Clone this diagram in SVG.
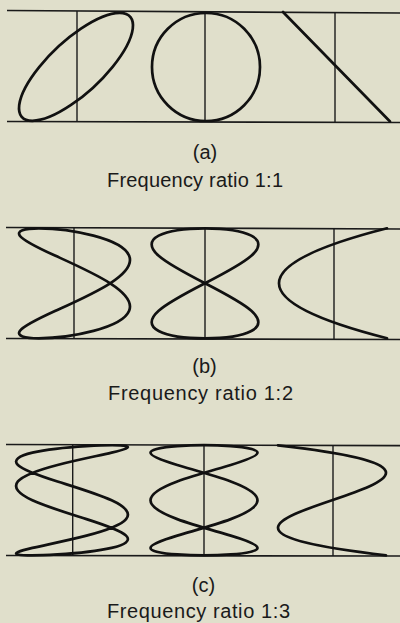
<svg xmlns="http://www.w3.org/2000/svg" width="400" height="623" viewBox="0 0 400 623">
<style>
.bg{fill:#e0dfcb}
.rule{stroke:#1a1a1a;stroke-width:1.7;fill:none;stroke-linecap:butt}
.axis{stroke:#1a1a1a;stroke-width:1.4;fill:none}
.trace{stroke:#111;stroke-width:2.7;fill:none;stroke-linejoin:round;stroke-linecap:round}
.lbl{font-family:"Liberation Sans",Arial,sans-serif;font-size:20px;fill:#1a1a1a}
</style>
<rect class="bg" x="0" y="0" width="400" height="623"/>

<g id="panel-a">
  <g id="a-frame">
    <line class="rule" x1="7" y1="10.5" x2="400" y2="13"/>
    <line class="rule" x1="7" y1="121.5" x2="400" y2="122.5"/>
    <line class="axis" x1="77" y1="11" x2="77" y2="122"/>
    <line class="axis" x1="205" y1="12" x2="205" y2="122"/>
    <line class="axis" x1="335" y1="12" x2="335" y2="122"/>
  </g>
  <path id="a-ellipse" class="trace" d="M112.64,66.8 C136.75,36.98 139.9,12.8 119.66,12.8 C99.42,12.8 63.47,36.98 39.36,66.8 C15.25,96.62 12.1,120.8 32.34,120.8 C52.58,120.8 88.53,96.62 112.64,66.8Z"/>
  <circle id="a-circle" class="trace" cx="206" cy="67" r="54"/>
  <line id="a-line" class="trace" x1="283" y1="12" x2="390" y2="121.5"/>
  <text class="lbl" x="205" y="159" text-anchor="middle">(a)</text>
  <text class="lbl" x="107" y="186.5" textLength="176" lengthAdjust="spacing">Frequency ratio 1:1</text>
</g>

<g id="panel-b">
  <g id="b-frame">
    <line class="rule" x1="6" y1="227.5" x2="400" y2="229"/>
    <line class="rule" x1="6" y1="338.5" x2="400" y2="339.5"/>
    <line class="axis" x1="74" y1="228" x2="74" y2="339"/>
    <line class="axis" x1="205" y1="228" x2="205" y2="339"/>
    <line class="axis" x1="334" y1="228" x2="334" y2="339"/>
  </g>
  <path id="b-left" class="trace" d="M110.18,283.3 C125.02,273.7 132.52,264.11 129.16,255.8 C125.8,247.49 111.68,240.47 93.48,235.67 C75.28,230.87 53.66,228.3 38.82,228.3 C23.98,228.3 16.48,230.87 19.84,235.67 C23.2,240.47 37.32,247.49 55.52,255.8 C73.72,264.11 95.34,273.7 110.18,283.3 C125.02,292.9 132.52,302.49 129.16,310.8 C125.8,319.11 111.68,326.13 93.48,330.93 C75.28,335.73 53.66,338.3 38.82,338.3 C23.98,338.3 16.48,335.73 19.84,330.93 C23.2,326.13 37.32,319.11 55.52,310.8 C73.72,302.49 95.34,292.9 110.18,283.3Z"/>
  <path id="b-middle" class="trace" d="M205,283.3 C223.675,273.7 241.99,264.11 251.33,255.8 C260.67,247.49 260.67,240.47 251.33,235.67 C241.99,230.87 223.675,228.3 205,228.3 C186.325,228.3 168.01,230.87 158.67,235.67 C149.33,240.47 149.33,247.49 158.67,255.8 C168.01,264.11 186.325,273.7 205,283.3 C223.675,292.9 241.99,302.49 251.33,310.8 C260.67,319.11 260.67,326.13 251.33,330.93 C241.99,335.73 223.675,338.3 205,338.3 C186.325,338.3 168.01,335.73 158.67,330.93 C149.33,326.13 149.33,319.11 158.67,310.8 C168.01,302.49 186.325,292.9 205,283.3Z"/>
  <path id="b-right" class="trace" d="M387,338.3 Q171,283.3 387,228.3"/>
  <text class="lbl" x="204.5" y="373" text-anchor="middle">(b)</text>
  <text class="lbl" x="108" y="399.5" textLength="185" lengthAdjust="spacing">Frequency ratio 1:2</text>
</g>

<g id="panel-c">
  <g id="c-frame">
    <line class="rule" x1="6" y1="444.5" x2="400" y2="445.7"/>
    <line class="rule" x1="6" y1="555.5" x2="400" y2="556"/>
    <line class="axis" x1="72.7" y1="445" x2="72.7" y2="556"/>
    <line class="axis" x1="204" y1="445" x2="204" y2="556"/>
    <line class="axis" x1="333" y1="445" x2="333" y2="556"/>
  </g>
  <path id="c-left" class="trace" d="M111.6,500.3 C97.78,493.9 76.39,487.5 57.51,481.49 C38.63,475.48 22.97,469.85 17.91,464.95 C12.85,460.05 18.58,455.87 32.4,452.67 C46.22,449.47 67.61,447.25 86.49,446.14 C105.37,445.03 121.03,445.03 126.09,446.14 C131.15,447.25 125.42,449.47 111.6,452.67 C97.78,455.87 76.39,460.05 57.51,464.95 C38.63,469.85 22.97,475.48 17.91,481.49 C12.85,487.5 18.58,493.9 32.4,500.3 C46.22,506.7 67.61,513.1 86.49,519.11 C105.37,525.12 121.03,530.75 126.09,535.65 C131.15,540.55 125.42,544.73 111.6,547.93 C97.78,551.13 76.39,553.35 57.51,554.46 C38.63,555.57 22.97,555.57 17.91,554.46 C12.85,553.35 18.58,551.13 32.4,547.93 C46.22,544.73 67.61,540.55 86.49,535.65 C105.37,530.75 121.03,525.12 126.09,519.11 C131.15,513.1 125.42,506.7 111.6,500.3Z"/>
  <path id="c-middle" class="trace" d="M257.5,500.3 C257.5,493.9 246.92,487.5 230.75,481.49 C214.58,475.48 193.42,469.85 177.25,464.95 C161.08,460.05 150.5,455.87 150.5,452.67 C150.5,449.47 161.08,447.25 177.25,446.14 C193.42,445.03 214.58,445.03 230.75,446.14 C246.92,447.25 257.5,449.47 257.5,452.67 C257.5,455.87 246.92,460.05 230.75,464.95 C214.58,469.85 193.42,475.48 177.25,481.49 C161.08,487.5 150.5,493.9 150.5,500.3 C150.5,506.7 161.08,513.1 177.25,519.11 C193.42,525.12 214.58,530.75 230.75,535.65 C246.92,540.55 257.5,544.73 257.5,547.93 C257.5,551.13 246.92,553.35 230.75,554.46 C214.58,555.57 193.42,555.57 177.25,554.46 C161.08,553.35 150.5,551.13 150.5,547.93 C150.5,544.73 161.08,540.55 177.25,535.65 C193.42,530.75 214.58,525.12 230.75,519.11 C246.92,513.1 257.5,506.7 257.5,500.3Z"/>
  <path id="c-right" class="trace" d="M386,555.3 C62,518.63 602,481.97 278,445.3"/>
  <text class="lbl" x="203.5" y="592" text-anchor="middle">(c)</text>
  <text class="lbl" x="107" y="618" textLength="183" lengthAdjust="spacing">Frequency ratio 1:3</text>
</g>
</svg>
